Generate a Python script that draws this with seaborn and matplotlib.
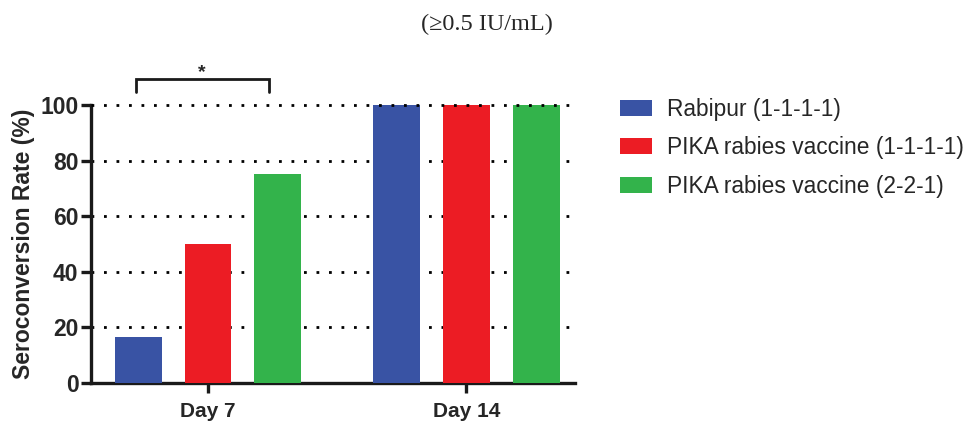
import matplotlib
matplotlib.use("Agg")
import matplotlib.pyplot as plt
import seaborn as sns
import pandas as pd
from matplotlib.patches import Patch

days = ["Day 7", "Day 14"]
groups = ["Rabipur (1-1-1-1)", "PIKA rabies vaccine (1-1-1-1)", "PIKA rabies vaccine (2-2-1)"]
rabipur = [16.7, 100]
pika_1111 = [50, 100]
pika_221 = [75, 100]
colors = ["#3953a4", "#ec1c24", "#33b34b"]

rows = []
for g, vals in zip(groups, [rabipur, pika_1111, pika_221]):
    for d, v in zip(days, vals):
        rows.append({"Day": d, "Group": g, "Rate": v})
df = pd.DataFrame(rows)

sns.set_style("ticks")
plt.rcParams["font.family"] = ["Liberation Sans", "DejaVu Sans"]

fig = plt.figure(figsize=(9.64, 4.21), dpi=100)
ax = fig.add_axes([0.0944, 0.0903, 0.5021, 0.6603])

sns.barplot(data=df, x="Day", y="Rate", hue="Group", hue_order=groups, order=days,
            palette=colors, width=0.81, gap=0.33, saturation=1, ax=ax, legend=False,
            edgecolor="none", zorder=3)

ax.set_xlim(-0.453, 1.42)
ax.set_ylim(0, 100)
ax.set_yticks([0, 20, 40, 60, 80, 100])
for y in [20, 40, 60, 80, 100]:
    ax.axhline(y, color="black", linestyle=(0, (1, 3.5)), linewidth=2.0,
               zorder=4 if y == 100 else 1, clip_on=False)

for s in ["top", "right"]:
    ax.spines[s].set_visible(False)
for s in ["left", "bottom"]:
    ax.spines[s].set_linewidth(2.4)
    ax.spines[s].set_color("#1a1a1a")
ax.tick_params(axis="both", width=2.4, length=7, color="#1a1a1a")
ax.tick_params(axis="y", labelsize=16.5, pad=2)
ax.tick_params(axis="x", labelsize=15, pad=7)
for lab in ax.get_xticklabels() + ax.get_yticklabels():
    lab.set_fontweight("bold")
ax.set_xlabel("")
ax.set_ylabel("Seroconversion Rate (%)", fontsize=16.5, fontweight="bold", labelpad=4)

# significance bracket
x0, x1 = -0.28, 0.235
ax.plot([x0, x0, x1, x1], [104.5, 109.5, 109.5, 104.5], color="#1a1a1a", lw=2.0,
        clip_on=False, solid_joinstyle="miter")
ax.text((x0 + x1) / 2, 108.5, "*", ha="center", va="bottom", fontsize=14, fontweight="bold")

fig.text(0.505, 0.942, "(≥0.5 IU/mL)", ha="center", va="center",
         fontsize=17.5, family=["Liberation Serif", "DejaVu Serif"])

handles = [Patch(facecolor=c, edgecolor="none") for c in colors]
fig.legend(handles, groups, loc="upper left", bbox_to_anchor=(0.643, 0.768),
           frameon=False, fontsize=16.4, handlelength=1.4, handleheight=0.7,
           handletextpad=0.65, labelspacing=0.68, borderaxespad=0, borderpad=0)

fig.savefig("out.png", dpi=100)
